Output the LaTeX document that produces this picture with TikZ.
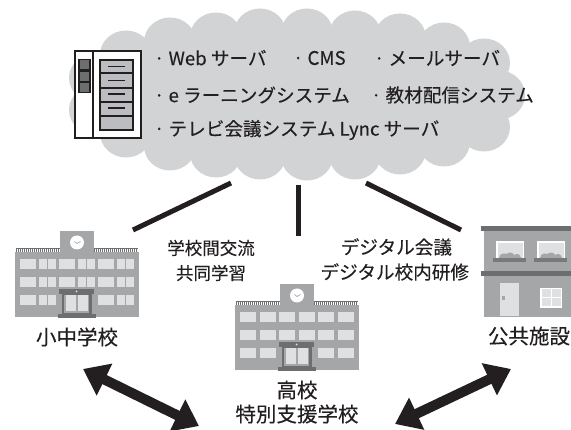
\documentclass[tikz,border=0pt]{standalone}
\usepackage{fontspec}
\usepackage{tikz}
\usetikzlibrary{arrows.meta}
\setmainfont[FakeBold=0.25]{Noto Sans CJK JP}
\definecolor{ink}{HTML}{231F20}
\definecolor{cloudgray}{HTML}{D1D3D4}
\definecolor{wallgray}{HTML}{A5A6A8}
\definecolor{wingray}{HTML}{DFE0E1}
\definecolor{darkgray}{HTML}{6D6E70}
\definecolor{rackgray}{HTML}{BCBDC0}
\tikzset{
  txt/.style={inner sep=0pt,outer sep=0pt,text=ink,font=\fontsize{18.6}{22}\selectfont},
  lab/.style={inner sep=0pt,outer sep=0pt,text=ink,font=\fontsize{17.5}{20}\selectfont},
  big/.style={inner sep=0pt,outer sep=0pt,text=ink,font=\fontsize{20.5}{24}\selectfont},
  link/.style={draw=ink,line width=5pt},
  dblarrow/.style={draw=ink,line width=10pt,{Triangle[length=24pt,width=34pt]}-{Triangle[length=24pt,width=34pt]},fill=ink},
}
\newcommand{\schoolbase}{%
  \fill[wallgray] (0,21.3) rectangle (124,86);
  \fill[wallgray] (45,0) rectangle (79,21.3);
  \draw[darkgray,line width=.6pt] (1,17.3) -- (45,17.3) (79,17.3) -- (123,17.3);
  \foreach \i in {1,3,...,43}{\draw[darkgray,line width=.8pt] (\i,17.3) -- (\i,21.3); \draw[darkgray,line width=.8pt] (\i+78,17.3) -- (\i+78,21.3);}
  \fill[white] (62,11.5) circle (7);
  \draw[wallgray,line width=.7pt] (59.5,10.5) -- (62,12.5) -- (65.5,10.5);
}
\newcommand{\schooldoor}{%
  \fill[darkgray] (44,58) rectangle (79,63);
  \fill[wingray] (61.5,60.5) circle (1);
  \fill[darkgray] (47.3,63) rectangle (76.7,83.3);
  \fill[wallgray] (49.3,63.7) rectangle (74.3,81.7);
  \fill[wingray] (50.5,64.5) rectangle (61,80);
  \fill[wingray] (62.5,64.5) rectangle (73,80);
  \fill[darkgray] (43,83.3) rectangle (81,87);
}
\begin{document}
\begin{tikzpicture}[x=1pt,y=-1pt]
\useasboundingbox (0,0) rectangle (571,430);
% cloud
\fill[cloudgray] (126,55) -- (170,42) -- (216,37) -- (260,33) -- (307,33) -- (355,35) -- (400,38) -- (444,47) -- (484,63) -- (499,95) -- (484,127) -- (444,142) -- (400,150) -- (355,155) -- (307,157) -- (260,155) -- (216,153) -- (170,146) -- (126,133) -- (95,110) -- (95,78) -- cycle;
\foreach \cx/\cy in {126/55,170/42,216/37,260/33,307/33,355/35,400/38,444/47,484/63,499/95,484/127,444/142,400/150,355/155,307/156,260/155,216/153,170/146,126/133,95/78,95/110}{
  \fill[cloudgray] (\cx,\cy) ellipse [x radius=26, y radius=24.5];
}
% server
\draw[ink,fill=white,line width=1.8pt] (75,51) rectangle (141,138);
\draw[ink,line width=2.4pt] (93,51) -- (93,138);
\fill[ink] (78,59) rectangle (91,93);
\foreach \y in {60.5,72,83}{\fill[darkgray] (80,\y) rectangle (89,\y+9);}
\draw[ink,fill=rackgray,line width=2pt] (100,60) rectangle (133,130);
\foreach \y in {73.3,87.7,101.7,115.7}{\draw[ink,line width=2pt] (100,\y) -- (133,\y);}
\foreach \y in {66.7,80.7,94.3,108.3}{\draw[ink,line width=1.6pt] (108,\y) -- (125,\y);}
% cloud text
\node[txt,anchor=west] (t1) at (154,58) {· Web サーバ};
\node[txt,anchor=west] (t2) at (293,58) {· CMS};
\node[txt,anchor=west] (t3) at (374,58) {· メールサーバ};
\node[txt,anchor=west] (t4) at (154,95) {· e ラーニングシステム};
\node[txt,anchor=west] (t5) at (371,95) {· 教材配信システム};
\node[txt,anchor=west] (t6) at (154,130) {· テレビ会議システム Lync サーバ};
% links
\coordinate (la) at (231,183); \coordinate (lb) at (133,230);
\coordinate (ma) at (298,185); \coordinate (mb) at (298,236);
\coordinate (ra) at (366,183); \coordinate (rb) at (461,230);
\draw[link] (la) -- (lb);
\draw[link] (ma) -- (mb);
\draw[link] (ra) -- (rb);
% school 1
\begin{scope}[shift={(15,231)}]
\schoolbase
\foreach \xa/\xb in {5/21,24/32,33/41,44/60,63/71,72/80,83/99,102/110,111/119}{
  \fill[wingray] (\xa,28.3) rectangle (\xb,38.3);
  \fill[wingray] (\xa,46) rectangle (\xb,56);
}
\foreach \xa/\xb in {5/21,24/32,33/41,83/99,102/110,111/119}{
  \fill[wingray] (\xa,64) rectangle (\xb,74);
}
\schooldoor
\end{scope}
% school 2
\begin{scope}[shift={(235,284)}]
\schoolbase
\foreach \xa/\xb in {5/21,25/41,44/60,64/80,83/99,103/119}{
  \fill[wingray] (\xa,28) rectangle (\xb,38);
  \fill[wingray] (\xa,46) rectangle (\xb,56);
}
\foreach \xa/\xb in {5/21,25/41,83/99,103/119}{
  \fill[wingray] (\xa,64) rectangle (\xb,74);
}
\schooldoor
\end{scope}
% public building
\fill[wallgray] (484,231) rectangle (571,317);
\fill[darkgray] (481,226) rectangle (571,231);
\fill[darkgray] (481,271) rectangle (571,276);
\foreach \wx in {496,537}{
  \fill[white] (\wx,241) rectangle (\wx+28,258);
  \fill[wingray] (\wx+1.5,243) rectangle (\wx+26.5,258);
  \fill[wallgray] (\wx+3,258) .. controls (\wx+4,253) and (\wx+8,253) .. (\wx+10,254) .. controls (\wx+13,252) and (\wx+17,252) .. (\wx+18,255) .. controls (\wx+21,253) and (\wx+24,254) .. (\wx+25,258) -- cycle;
  \fill[darkgray!80!wallgray] (\wx-3,258) rectangle (\wx+30,262);
}
\fill[wingray] (500,283) rectangle (519,316);
\fill[wallgray] (502,296) rectangle (505,300);
\fill[white] (540,288) rectangle (562,308);
\fill[wingray] (541.5,289.5) rectangle (550.5,297.5);
\fill[wingray] (551.5,289.5) rectangle (560.5,297.5);
\fill[wingray] (541.5,298.5) rectangle (550.5,306.5);
\fill[wingray] (551.5,298.5) rectangle (560.5,306.5);
% labels
\node[big] (shochu) at (77,337) {小中学校};
\node[big] (koko) at (297,390) {高校};
\node[big] (tokubetsu) at (297,414) {特別支援学校};
\node[big,anchor=west] (kokyo) at (488,336) {公共施設};
\node[lab] (l1) at (211,248) {学校間交流};
\node[lab] (l2) at (211,273) {共同学習};
\node[txt,anchor=east] (l3) at (452,247) {デジタル会議};
\node[txt,anchor=east] (l4) at (469,272) {デジタル校内研修};
% arrows
\coordinate (a1) at (83,369); \coordinate (a2) at (199,426);
\coordinate (b1) at (511,369); \coordinate (b2) at (395,424);
\draw[dblarrow] (a1) -- (a2);
\draw[dblarrow] (b1) -- (b2);
\end{tikzpicture}
\end{document}
